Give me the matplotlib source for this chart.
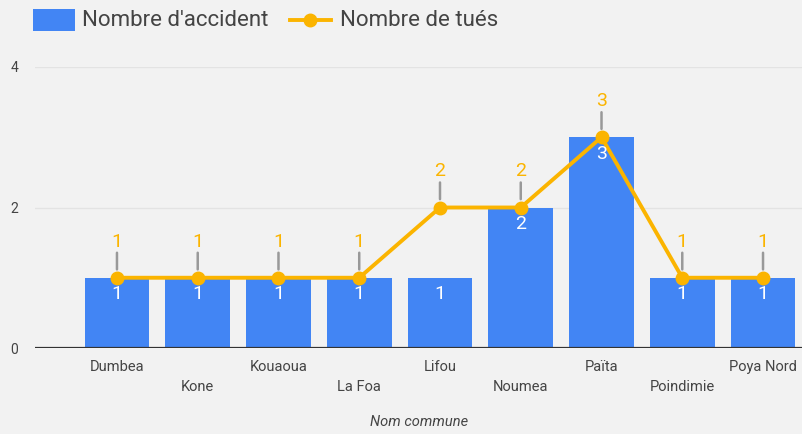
import matplotlib
matplotlib.use("Agg")
import matplotlib.pyplot as plt
from matplotlib.lines import Line2D
from matplotlib.patches import Rectangle
from matplotlib.transforms import offset_copy
import numpy as np

communes = ["Dumbea", "Kone", "Kouaoua", "La Foa", "Lifou", "Noumea", "Païta", "Poindimie", "Poya Nord"]
accidents = [1, 1, 1, 1, 1, 2, 3, 1, 1]
tues = [1, 1, 1, 1, 2, 2, 3, 1, 1]
yticks = [0, 2, 4]
series_names = ["Nombre d'accident", "Nombre de tués"]

BG = "#f2f2f2"
BLUE = "#4285f4"
ORANGE = "#fbb400"
TXT = "#444444"
plt.rcParams["font.family"] = ["Roboto", "DejaVu Sans"]

W, H = 803, 434
fig = plt.figure(figsize=(W / 100, H / 100), dpi=100, facecolor=BG)
ax = fig.add_axes([35 / W, (H - 348) / H, (803 - 35) / W, (348 - 67) / H], facecolor=BG)

x = np.arange(len(communes))
ax.set_xlim(-1.015, 8.495)
ax.set_ylim(0, 4)

for yv in yticks[1:]:
    ax.axhline(yv, color="#e3e3e3", lw=1, zorder=0)
ax.axhline(0, color="#333333", lw=1.6, zorder=3)

ax.bar(x, accidents, width=0.8, color=BLUE, zorder=1)
ax.plot(x, tues, color=ORANGE, lw=2.8, marker="o", ms=9, zorder=4, clip_on=False)

for xi, v in zip(x, accidents):
    ax.annotate(str(v), (xi, v), xytext=(0, -12), textcoords="offset points",
                ha="center", va="center", color="white", fontsize=14, zorder=5)

for xi, v in zip(x, tues):
    lo = offset_copy(ax.transData, fig=fig, x=0, y=6, units="points")
    hi = offset_copy(ax.transData, fig=fig, x=0, y=18, units="points")
    ax.annotate("", xy=(xi, v), xycoords=hi, xytext=(xi, v), textcoords=lo,
                arrowprops=dict(arrowstyle="-", color="#999999", lw=1.8, shrinkA=0, shrinkB=0),
                annotation_clip=False, zorder=2)
    ax.annotate(str(v), (xi, v), xytext=(0, 26), textcoords="offset points",
                ha="center", va="center", color=ORANGE, fontsize=14, zorder=5,
                annotation_clip=False)

ax.set_yticks(yticks)
ax.set_yticklabels([str(v) for v in yticks], color=TXT, fontsize=10)
ax.tick_params(axis="y", length=0, pad=12)
ax.set_xticks(x)
ax.set_xticklabels([])
ax.tick_params(axis="x", length=0)
for i, (xi, name) in enumerate(zip(x, communes)):
    off = -19 if i % 2 == 0 else -39
    ax.annotate(name, (xi, 0), xytext=(0, off), textcoords="offset pixels",
                ha="center", va="center", color=TXT, fontsize=10.5,
                annotation_clip=False)
ax.annotate("Nom commune", (0.5, 0), xycoords="axes fraction", xytext=(0, -74),
            textcoords="offset pixels", ha="center", va="center",
            color=TXT, fontsize=10.5, style="italic")

for s in ax.spines.values():
    s.set_visible(False)

# legend drawn manually in pixel-based figure coordinates
def fx(px):
    return px / W

def fy(py):
    return 1 - py / H

fig.patches.append(Rectangle((fx(33), fy(31)), fx(75) - fx(33), fy(9) - fy(31),
                             transform=fig.transFigure, facecolor=BLUE, edgecolor="none"))
fig.text(fx(82), fy(20), series_names[0], ha="left", va="center", color=TXT, fontsize=16)
fig.lines.append(Line2D([fx(290), fx(331)], [fy(20), fy(20)], transform=fig.transFigure,
                        color=ORANGE, lw=2.8))
fig.lines.append(Line2D([fx(310.5)], [fy(20)], transform=fig.transFigure,
                        color=ORANGE, marker="o", ms=9, lw=0))
fig.text(fx(340), fy(20), series_names[1], ha="left", va="center", color=TXT, fontsize=16)

fig.savefig("out.png", dpi=100, facecolor=BG)
